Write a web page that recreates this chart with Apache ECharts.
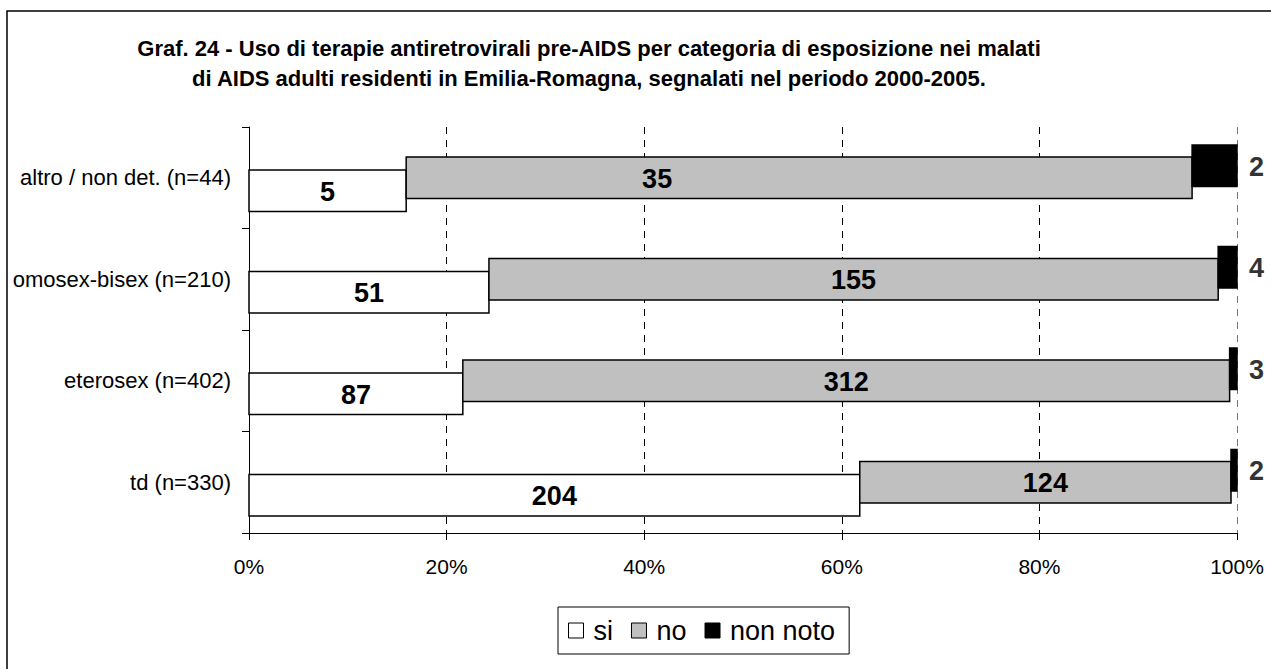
<!DOCTYPE html>
<html>
<head>
<meta charset="utf-8">
<script src="https://cdn.jsdelivr.net/npm/echarts/dist/echarts.min.js"></script>
<style>
  html, body { margin: 0; padding: 0; background: #fff; }
  #chart { width: 1271px; height: 669px; }
</style>
</head>
<body>
<div id="chart"></div>
<script>
// ---- dati ----
const categories = ["td (n=330)", "eterosex (n=402)", "omosex-bisex (n=210)", "altro / non det. (n=44)"];
const si = [204, 87, 51, 7];        // lunghezza delle barre (conteggi)
const no = [124, 312, 155, 35];
const nonNoto = [2, 3, 4, 2];
const siText = ["204", "87", "51", "5"];   // etichette come stampate nel grafico
const xTicks = [0, 20, 40, 60, 80, 100];

const FONT = '"Liberation Sans", Arial, sans-serif';

// ---- strati (offset verticale tipo Excel) ----
const layers = [
  { name: "si", vals: si, text: siText, fill: "#ffffff", shift: 13, place: "center", color: "#000" },
  { name: "no", vals: no, text: no.map(String), fill: "#c0c0c0", shift: 0, place: "center", color: "#000" },
  { name: "non noto", vals: nonNoto, text: nonNoto.map(String), fill: "#000000", shift: -12, place: "right", color: "#333" },
];
// etichetta "35" spostata a mano nell'originale
const labelNudge = { "no-3": -142 };

function buildData(li) {
  return categories.map((c, i) => {
    const tot = si[i] + no[i] + nonNoto[i];
    let start = 0;
    for (let k = 0; k < li; k++) start += layers[k].vals[i];
    const end = start + layers[li].vals[i];
    return [i, start / tot * 100, end / tot * 100];
  });
}

function makeRender(li) {
  const L = layers[li];
  return function (params, api) {
    const cat = api.value(0);
    const p0 = api.coord([api.value(1), cat]);
    const p1 = api.coord([api.value(2), cat]);
    const band = api.size([0, 1])[1];
    const h = band * 0.41;
    const cy = p0[1] + L.shift;
    const idx = params.dataIndex;
    let tx, align;
    if (L.place === "right") { tx = p1[0] + 12; align = "left"; }
    else { tx = (p0[0] + p1[0]) / 2; align = "center"; }
    tx += labelNudge[L.name + "-" + idx] || 0;
    return {
      type: "group",
      children: [
        {
          type: "rect",
          shape: { x: p0[0], y: cy - h / 2, width: p1[0] - p0[0], height: h },
          style: { fill: L.fill, stroke: "#000", lineWidth: 1.5 },
        },
        {
          type: "text",
          style: {
            text: L.text[idx], x: tx, y: cy + 1,
            textAlign: align, textVerticalAlign: "middle",
            font: "bold 27px " + FONT, fill: L.color,
          },
        },
      ],
    };
  };
}

const chart = echarts.init(document.getElementById("chart"), null, { renderer: "svg" });

chart.setOption({
  animation: false,
  backgroundColor: "#fff",
  textStyle: { fontFamily: FONT },
  title: {
    text: "Graf. 24 - Uso di terapie antiretrovirali pre-AIDS per categoria di esposizione nei malati\ndi AIDS adulti residenti in Emilia-Romagna, segnalati nel periodo 2000-2005.",
    left: 584, top: 28, textAlign: "center",
    textStyle: { fontSize: 22, fontWeight: "bold", color: "#000", lineHeight: 30, fontFamily: FONT },
  },
  graphic: [{
    type: "rect", silent: true,
    shape: { x: 7, y: 11, width: 1400, height: 800 },
    style: { fill: "none", stroke: "#000", lineWidth: 1.5 },
  }],
  legend: {
    left: 558, top: 607,
    padding: [10, 14, 10, 10],
    borderColor: "#000", borderWidth: 1,
    icon: "rect", itemWidth: 15, itemHeight: 15, itemGap: 18,
    textStyle: { fontSize: 27, color: "#000", fontFamily: FONT, padding: [0, 0, 0, 5] },
    data: layers.map(L => ({ name: L.name, itemStyle: { color: L.fill, borderColor: "#000", borderWidth: 1 } })),
  },
  grid: { left: 249, right: 34, top: 127, bottom: 136 },
  xAxis: {
    type: "value", min: 0, max: 100, interval: 20,
    axisLine: { show: true, lineStyle: { color: "#000", width: 1 } },
    axisTick: { show: true, length: 7, lineStyle: { color: "#000" } },
    axisLabel: { formatter: "{value}%", fontSize: 21, color: "#000", margin: 23, fontFamily: FONT },
    splitLine: { show: true, lineStyle: { type: [7, 6], color: ["#000", "#000", "#000", "#000", "#000", "#777"], width: 1 } },
  },
  yAxis: {
    type: "category", data: categories,
    axisLine: { show: true, lineStyle: { color: "#000", width: 1 } },
    axisTick: { show: true, length: 7, lineStyle: { color: "#000" } },
    axisLabel: { fontSize: 22, color: "#000", margin: 18, fontFamily: FONT },
    splitLine: { show: false },
  },
  series: layers.map((L, li) => ({
    name: L.name,
    type: "custom",
    itemStyle: { color: L.fill, borderColor: "#000", borderWidth: 1 },
    encode: { x: [1, 2], y: 0 },
    renderItem: makeRender(li),
    data: buildData(li),
  })),
});
</script>
</body>
</html>
